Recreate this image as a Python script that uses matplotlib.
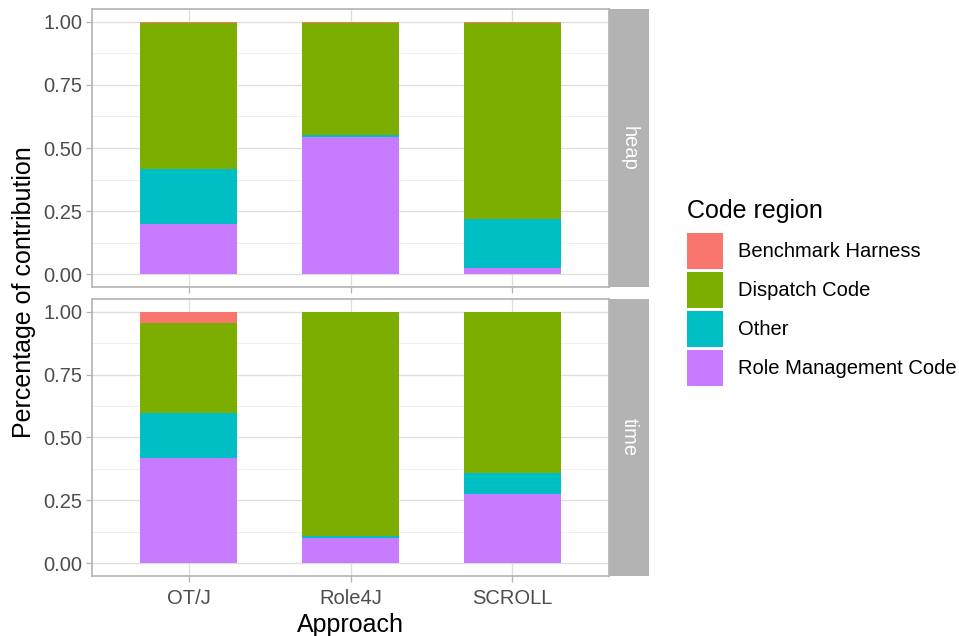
import numpy as np
import matplotlib
matplotlib.use("Agg")
import matplotlib.pyplot as plt
from matplotlib.patches import Patch

plt.rcParams["font.family"] = ["Liberation Sans", "DejaVu Sans"]

approaches = ["OT/J", "Role4J", "SCROLL"]
regions = ["Benchmark Harness", "Dispatch Code", "Other", "Role Management Code"]
colors = ["#F8766D", "#7CAE00", "#00BFC4", "#C77CFF"]

# shares per approach, stacked bottom-up: Role Mgmt, Other, Dispatch, Harness
heap_role = [0.198, 0.545, 0.027]
heap_other = [0.220, 0.006, 0.192]
heap_dispatch = [0.577, 0.444, 0.776]
heap_harness = [0.005, 0.005, 0.005]

time_role = [0.417, 0.099, 0.277]
time_other = [0.182, 0.011, 0.084]
time_dispatch = [0.356, 0.887, 0.636]
time_harness = [0.045, 0.003, 0.003]

panels = {
    "heap": [heap_role, heap_other, heap_dispatch, heap_harness],
    "time": [time_role, time_other, time_dispatch, time_harness],
}

W, H = 959, 636
fig = plt.figure(figsize=(W / 100, H / 100), dpi=100)

left, right = 92, 609
tops = [(9, 287), (299, 576)]
strip_w = 40
x = np.arange(1, 4)
small, big = 14.5, 18

for (name, stacks), (t, b) in zip(panels.items(), tops):
    ax = fig.add_axes([left / W, 1 - b / H, (right - left) / W, (b - t) / H])
    bottom = np.zeros(3)
    # draw bottom-up: role mgmt, other, dispatch, harness
    for vals, col in zip(stacks, [colors[3], colors[2], colors[1], colors[0]]):
        ax.bar(x, vals, width=0.6, bottom=bottom, color=col, zorder=3)
        bottom += np.array(vals)
    ax.set_xlim(0.4, 3.6)
    ax.set_ylim(-0.05, 1.05)
    ax.set_yticks([0, 0.25, 0.5, 0.75, 1.0])
    ax.set_yticklabels(["0.00", "0.25", "0.50", "0.75", "1.00"])
    ax.set_yticks([0.125, 0.375, 0.625, 0.875], minor=True)
    ax.set_xticks(x)
    ax.grid(True, which="major", color="#DEDEDE", lw=0.9, zorder=0)
    ax.grid(True, which="minor", axis="y", color="#EDEDED", lw=0.6, zorder=0)
    for s in ax.spines.values():
        s.set_color("#B3B3B3")
        s.set_linewidth(1.2)
    ax.tick_params(which="major", color="#B3B3B3", length=4, width=0.9,
                   labelsize=small, labelcolor="#4D4D4D", pad=3)
    ax.tick_params(axis="x", pad=5)
    ax.tick_params(which="minor", length=0)
    if name == "heap":
        ax.set_xticklabels([])
    else:
        ax.set_xticklabels(approaches)
        ax.set_xlabel("Approach", fontsize=big, labelpad=4)
    # facet strip
    sax = fig.add_axes([right / W, 1 - b / H, strip_w / W, (b - t) / H])
    sax.set_facecolor("#B3B3B3")
    sax.set_xticks([])
    sax.set_yticks([])
    for s in sax.spines.values():
        s.set_visible(False)
    sax.text(0.5, 0.5, name, rotation=-90, color="white", fontsize=small,
             ha="center", va="center", transform=sax.transAxes)

fig.text(24 / W, 1 - 292 / H, "Percentage of contribution", rotation=90,
         fontsize=big, ha="center", va="center")

handles = [Patch(facecolor=c, edgecolor="none") for c in colors]
leg = fig.legend(handles, regions, title="Code region", loc="upper left",
                 bbox_to_anchor=(681 / W, 1 - 193 / H), frameon=False,
                 fontsize=small, title_fontsize=big, handlelength=1.77,
                 handleheight=2.38, labelspacing=0.15, handletextpad=0.74,
                 borderaxespad=0, borderpad=0.3)
leg._legend_box.align = "left"
leg._legend_box.sep = 7

fig.savefig("out.png", dpi=100)
